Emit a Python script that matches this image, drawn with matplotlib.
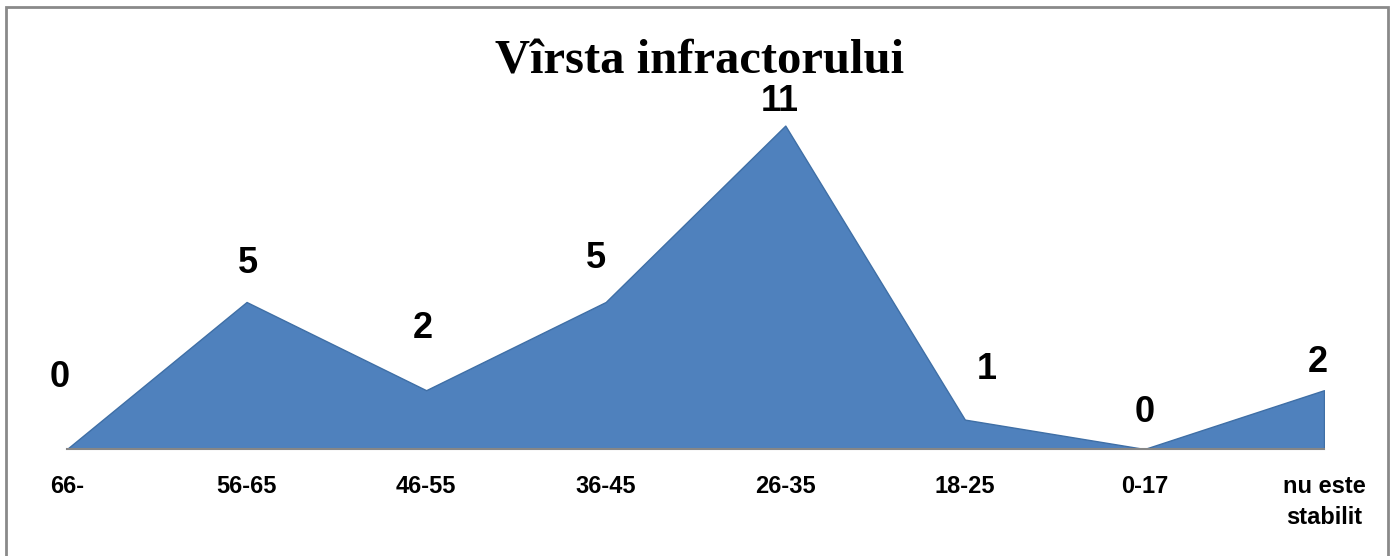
import matplotlib
matplotlib.use("Agg")
import matplotlib.pyplot as plt
from matplotlib.patches import Rectangle
import numpy as np

categories = ["66-", "56-65", "46-55", "36-45", "26-35", "18-25", "0-17", "nu este\nstabilit"]
values = [0, 5, 2, 5, 11, 1, 0, 2]
value_labels = ["0", "5", "2", "5", "11", "1", "0", "2"]
title = "Vîrsta infractorului"

# label centre offsets in pixels (dx, dy up) relative to the data point
label_offsets = [(-7, 75), (1, 42), (-3, 65), (-10, 47), (-6, 28), (22, 54), (0, 40), (-6, 31)]

W, H = 1393, 556
PT = 72 / 100  # points per pixel
fig = plt.figure(figsize=(W / 100, H / 100), dpi=100)
fig.patch.set_facecolor("white")

fig.patches.append(Rectangle((6 / W, -0.01), (1388 - 6) / W, 1.01 - 7 / H,
                             transform=fig.transFigure, fill=False,
                             edgecolor="#8a8a8a", linewidth=2.0))

ax = fig.add_axes([67 / W, 1 - 449 / H, (1324 - 67) / W, 12.5 * 29.4 / H])
x = np.arange(len(categories))
ax.fill_between(x, values, 0, facecolor="#4F81BD", edgecolor="#3F6FA6", linewidth=1.0)
ax.set_xlim(0, len(categories) - 1)
ax.set_ylim(0, 12.5)
ax.set_facecolor("none")
for s in ["top", "right", "left"]:
    ax.spines[s].set_visible(False)
ax.spines["bottom"].set_color("#868686")
ax.spines["bottom"].set_linewidth(1.5)
ax.set_yticks([])
ax.set_xticks(x)
ax.set_xticklabels(categories, fontfamily="Liberation Sans", fontweight="bold", fontsize=17,
                   linespacing=1.45)
ax.tick_params(axis="x", length=0, pad=19)

digit_h = 26
for i, (v, lab) in enumerate(zip(values, value_labels)):
    dx, dy = label_offsets[i]
    ax.annotate(lab, (x[i], v), xytext=(dx * PT, (dy - digit_h / 2) * PT),
                textcoords="offset points",
                ha="center", va="baseline", fontfamily="Liberation Sans", fontweight="bold",
                fontsize=26, color="black", annotation_clip=False)

fig.text(700 / W, 1 - 73 / H, title, ha="center", va="baseline",
         fontfamily="Liberation Serif", fontweight="bold", fontsize=35)

fig.savefig("out.png", dpi=100)
